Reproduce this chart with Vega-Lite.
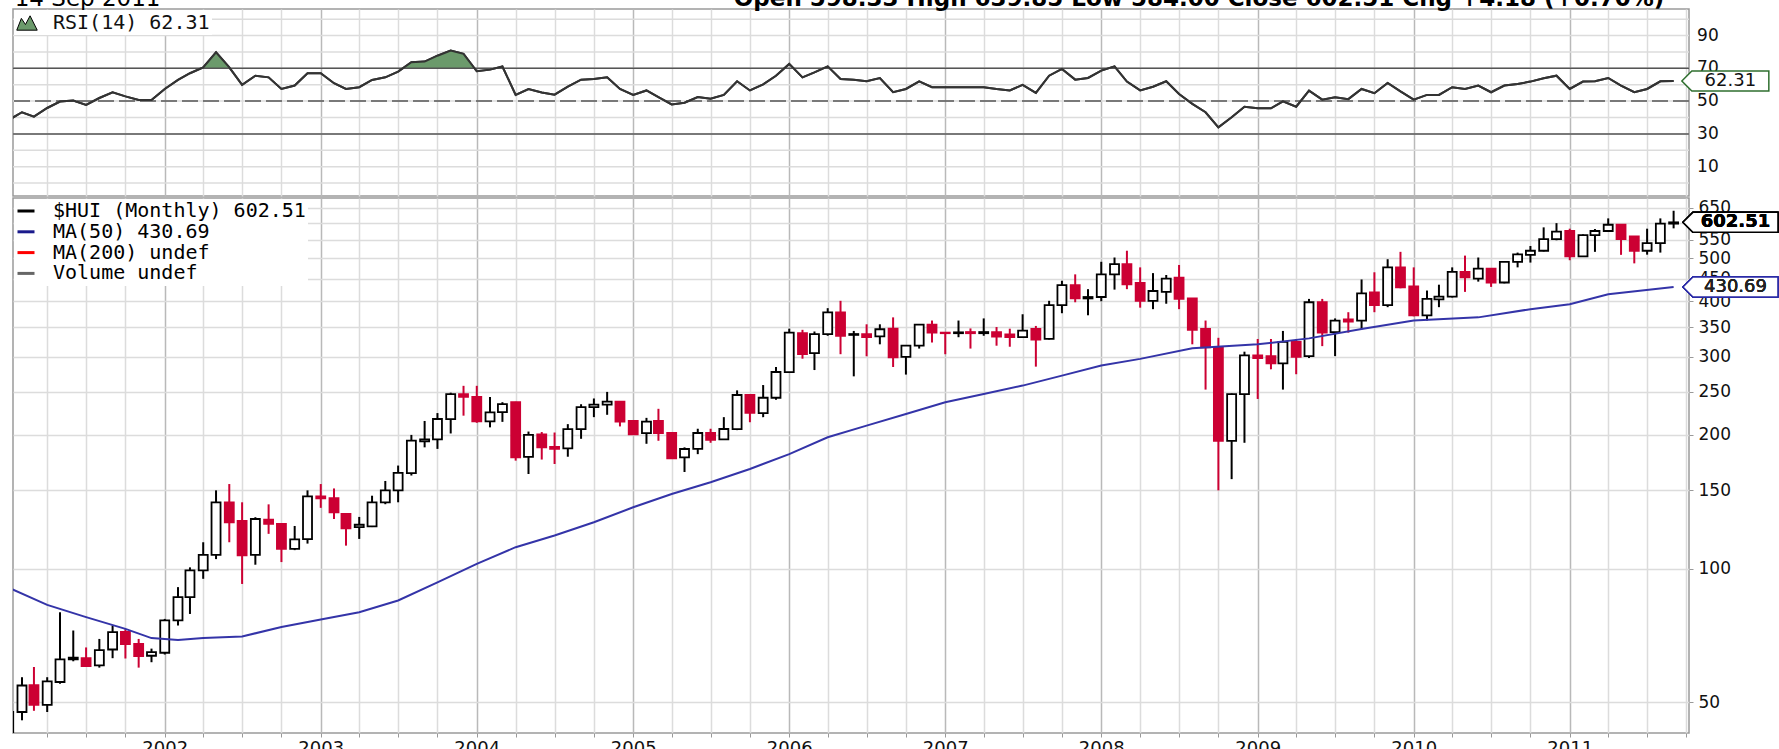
{
  "$schema": "https://vega.github.io/schema/vega-lite/v6.json",
  "padding": {"left": 11, "top": -13, "right": 0, "bottom": 0},
  "background": "white",
  "spacing": 0,
  "resolve": {"legend": {"color": "independent", "fill": "independent"}, "scale": {"x": "independent", "y": "independent"}},
  "config": {
    "view": {"stroke": "#9a9a9a", "strokeWidth": 1.5},
    "axis": {"domain": false, "gridColor": "#dcdcdc", "gridWidth": 1.5, "labelFont": "DejaVu Sans", "labelFontSize": 17, "labelColor": "#111111", "tickColor": "#999999", "title": null},
    "legend": {"title": null}
  },
  "datasets": {
    "ohlc": [
      {"d": "2001-01-01", "o": 41, "h": 48, "l": 39.5, "c": 47.5, "r": 38.5},
      {"d": "2001-02-01", "o": 47.5, "h": 56.9, "l": 45.5, "c": 54.5, "r": 43.2},
      {"d": "2001-03-01", "o": 54.6, "h": 60, "l": 47.8, "c": 49.3, "r": 40.5},
      {"d": "2001-04-01", "o": 49.3, "h": 56.9, "l": 47.5, "c": 55.7, "r": 45.8},
      {"d": "2001-05-01", "o": 55.5, "h": 79.7, "l": 55, "c": 62.4, "r": 49.7},
      {"d": "2001-06-01", "o": 62.4, "h": 72.5, "l": 61.8, "c": 63, "r": 50.3},
      {"d": "2001-07-01", "o": 62.8, "h": 66.4, "l": 60, "c": 60.3, "r": 47.7},
      {"d": "2001-08-01", "o": 60.5, "h": 69.4, "l": 59.8, "c": 65.5, "r": 51.9},
      {"d": "2001-09-01", "o": 65.7, "h": 74.4, "l": 62.8, "c": 71.9, "r": 55.4},
      {"d": "2001-10-01", "o": 72, "h": 73, "l": 62.7, "c": 67.6, "r": 52.9},
      {"d": "2001-11-01", "o": 67.6, "h": 69.4, "l": 59.8, "c": 63.5, "r": 50.7},
      {"d": "2001-12-01", "o": 63.6, "h": 66, "l": 61.5, "c": 64.8, "r": 50.7},
      {"d": "2002-01-01", "o": 64.6, "h": 77, "l": 64, "c": 76.4, "r": 57.4},
      {"d": "2002-02-01", "o": 76.4, "h": 90.8, "l": 74.4, "c": 86.2, "r": 62.9},
      {"d": "2002-03-01", "o": 86.2, "h": 100.6, "l": 79, "c": 99, "r": 67},
      {"d": "2002-04-01", "o": 99, "h": 114.6, "l": 94.8, "c": 107.3, "r": 70.6},
      {"d": "2002-05-01", "o": 107.3, "h": 150, "l": 105, "c": 141, "r": 79.8},
      {"d": "2002-06-01", "o": 141, "h": 155, "l": 114.6, "c": 127, "r": 70.6},
      {"d": "2002-07-01", "o": 128, "h": 141, "l": 92.3, "c": 107.1, "r": 59.9},
      {"d": "2002-08-01", "o": 107.3, "h": 130.5, "l": 102, "c": 129.3, "r": 65.5},
      {"d": "2002-09-01", "o": 128.8, "h": 139.5, "l": 119.7, "c": 126, "r": 64.5},
      {"d": "2002-10-01", "o": 126, "h": 126.3, "l": 103.4, "c": 110.7, "r": 57.4},
      {"d": "2002-11-01", "o": 110.7, "h": 124.7, "l": 110, "c": 116.3, "r": 59.5},
      {"d": "2002-12-01", "o": 116.5, "h": 150, "l": 113.8, "c": 145.4, "r": 67},
      {"d": "2003-01-01", "o": 145.4, "h": 155, "l": 137, "c": 144, "r": 67},
      {"d": "2003-02-01", "o": 144, "h": 151.5, "l": 129.3, "c": 133.9, "r": 60.9},
      {"d": "2003-03-01", "o": 132.7, "h": 133, "l": 112.6, "c": 123.2, "r": 57.4},
      {"d": "2003-04-01", "o": 124, "h": 130.7, "l": 116.6, "c": 125.5, "r": 58.5},
      {"d": "2003-05-01", "o": 124.5, "h": 145.9, "l": 124, "c": 141, "r": 62.9},
      {"d": "2003-06-01", "o": 141, "h": 157.5, "l": 139.6, "c": 150, "r": 64.5},
      {"d": "2003-07-01", "o": 150, "h": 170.6, "l": 141, "c": 164.2, "r": 68},
      {"d": "2003-08-01", "o": 164, "h": 200, "l": 162, "c": 194.2, "r": 73.7},
      {"d": "2003-09-01", "o": 193.5, "h": 215, "l": 187.5, "c": 195.5, "r": 74.1},
      {"d": "2003-10-01", "o": 195.5, "h": 224, "l": 186, "c": 217.2, "r": 77.7},
      {"d": "2003-11-01", "o": 217, "h": 249, "l": 201.5, "c": 247.2, "r": 80.8},
      {"d": "2003-12-01", "o": 247, "h": 258, "l": 221, "c": 243.5, "r": 78.8},
      {"d": "2004-01-01", "o": 243.5, "h": 258, "l": 213, "c": 214.5, "r": 68.2},
      {"d": "2004-02-01", "o": 214.5, "h": 243.5, "l": 208, "c": 224.8, "r": 69.2},
      {"d": "2004-03-01", "o": 225, "h": 237, "l": 214, "c": 234.7, "r": 71.1},
      {"d": "2004-04-01", "o": 237, "h": 237.5, "l": 175, "c": 178, "r": 53.8},
      {"d": "2004-05-01", "o": 178.5, "h": 203.5, "l": 163.3, "c": 200, "r": 57.4},
      {"d": "2004-06-01", "o": 200.5, "h": 203, "l": 176, "c": 187.5, "r": 55.3},
      {"d": "2004-07-01", "o": 188, "h": 202.5, "l": 172, "c": 186, "r": 53.9},
      {"d": "2004-08-01", "o": 186.5, "h": 211.5, "l": 178.6, "c": 206, "r": 58.8},
      {"d": "2004-09-01", "o": 206, "h": 234.5, "l": 196, "c": 231, "r": 63.1},
      {"d": "2004-10-01", "o": 231, "h": 241.6, "l": 219.3, "c": 234, "r": 63.5},
      {"d": "2004-11-01", "o": 234, "h": 250, "l": 222, "c": 237.6, "r": 64.5},
      {"d": "2004-12-01", "o": 237.6, "h": 238.5, "l": 209, "c": 214.3, "r": 57.4},
      {"d": "2005-01-01", "o": 215, "h": 215.5, "l": 200, "c": 200.5, "r": 53.8},
      {"d": "2005-02-01", "o": 201.8, "h": 218.5, "l": 191, "c": 214.3, "r": 56.5},
      {"d": "2005-03-01", "o": 215, "h": 229, "l": 194, "c": 202, "r": 52.5},
      {"d": "2005-04-01", "o": 202, "h": 202.5, "l": 176.5, "c": 177, "r": 48},
      {"d": "2005-05-01", "o": 178, "h": 187.5, "l": 165, "c": 185.9, "r": 49},
      {"d": "2005-06-01", "o": 186, "h": 206.5, "l": 181, "c": 202, "r": 52.5},
      {"d": "2005-07-01", "o": 202, "h": 206.5, "l": 192, "c": 195, "r": 51.4},
      {"d": "2005-08-01", "o": 195.5, "h": 219.3, "l": 195, "c": 206.2, "r": 53.8},
      {"d": "2005-09-01", "o": 206, "h": 252, "l": 205, "c": 246, "r": 62.1},
      {"d": "2005-10-01", "o": 246, "h": 246.5, "l": 213.6, "c": 224.2, "r": 56.5},
      {"d": "2005-11-01", "o": 224, "h": 259, "l": 219.3, "c": 242.5, "r": 60.2},
      {"d": "2005-12-01", "o": 242.5, "h": 284.5, "l": 240, "c": 277.2, "r": 65.5},
      {"d": "2006-01-01", "o": 277, "h": 347, "l": 276, "c": 340, "r": 72.7},
      {"d": "2006-02-01", "o": 339, "h": 345, "l": 297, "c": 304, "r": 64.5},
      {"d": "2006-03-01", "o": 305.7, "h": 342, "l": 280, "c": 337.5, "r": 67.5},
      {"d": "2006-04-01", "o": 337.5, "h": 386, "l": 334.5, "c": 377.6, "r": 71.2},
      {"d": "2006-05-01", "o": 377.6, "h": 401, "l": 304, "c": 334.5, "r": 63.5},
      {"d": "2006-06-01", "o": 336, "h": 343, "l": 271, "c": 337.5, "r": 63.1},
      {"d": "2006-07-01", "o": 337.5, "h": 355, "l": 300.7, "c": 332, "r": 62.1},
      {"d": "2006-08-01", "o": 333.6, "h": 355, "l": 320, "c": 346, "r": 64.1},
      {"d": "2006-09-01", "o": 347, "h": 368, "l": 284.5, "c": 299, "r": 55.4},
      {"d": "2006-10-01", "o": 299.7, "h": 318, "l": 273.5, "c": 317.7, "r": 57.4},
      {"d": "2006-11-01", "o": 317.7, "h": 355, "l": 313, "c": 354.5, "r": 62.1},
      {"d": "2006-12-01", "o": 354.5, "h": 362, "l": 323, "c": 340, "r": 58.5},
      {"d": "2007-01-01", "o": 340, "h": 341, "l": 304, "c": 339, "r": 58.5},
      {"d": "2007-02-01", "o": 339, "h": 362, "l": 332, "c": 340.5, "r": 58.5},
      {"d": "2007-03-01", "o": 341, "h": 347.5, "l": 313, "c": 339, "r": 58.5},
      {"d": "2007-04-01", "o": 339, "h": 366, "l": 334.5, "c": 341, "r": 58.5},
      {"d": "2007-05-01", "o": 341, "h": 350, "l": 317.7, "c": 333, "r": 57.4},
      {"d": "2007-06-01", "o": 337, "h": 347, "l": 316, "c": 332, "r": 56.5},
      {"d": "2007-07-01", "o": 332, "h": 374, "l": 332, "c": 343.4, "r": 59.9},
      {"d": "2007-08-01", "o": 346.6, "h": 352, "l": 285, "c": 328, "r": 55},
      {"d": "2007-09-01", "o": 329, "h": 401, "l": 328, "c": 392, "r": 65.5},
      {"d": "2007-10-01", "o": 392, "h": 445, "l": 376, "c": 435, "r": 69.6},
      {"d": "2007-11-01", "o": 435, "h": 460, "l": 398, "c": 406, "r": 63.1},
      {"d": "2007-12-01", "o": 406, "h": 426, "l": 372, "c": 409, "r": 64.1},
      {"d": "2008-01-01", "o": 409, "h": 491, "l": 400, "c": 460, "r": 68.6},
      {"d": "2008-02-01", "o": 460, "h": 502, "l": 425, "c": 485, "r": 71.2},
      {"d": "2008-03-01", "o": 485, "h": 520, "l": 426, "c": 437, "r": 61.9},
      {"d": "2008-04-01", "o": 440, "h": 477, "l": 387, "c": 401, "r": 56.5},
      {"d": "2008-05-01", "o": 401, "h": 463, "l": 384, "c": 422, "r": 58.8},
      {"d": "2008-06-01", "o": 420, "h": 458.5, "l": 395, "c": 450, "r": 62.1},
      {"d": "2008-07-01", "o": 452, "h": 483, "l": 384, "c": 405, "r": 54.3},
      {"d": "2008-08-01", "o": 406, "h": 406, "l": 320, "c": 345, "r": 48.3},
      {"d": "2008-09-01", "o": 346.6, "h": 362, "l": 253, "c": 315, "r": 43.2},
      {"d": "2008-10-01", "o": 315, "h": 331, "l": 150, "c": 194, "r": 34},
      {"d": "2008-11-01", "o": 194, "h": 248, "l": 159, "c": 247, "r": 40.1},
      {"d": "2008-12-01", "o": 247, "h": 308, "l": 192, "c": 302, "r": 46.6},
      {"d": "2009-01-01", "o": 302, "h": 329, "l": 241, "c": 298, "r": 45.6},
      {"d": "2009-02-01", "o": 301, "h": 329, "l": 281, "c": 290, "r": 45.6},
      {"d": "2009-03-01", "o": 290, "h": 343, "l": 253, "c": 324, "r": 49.9},
      {"d": "2009-04-01", "o": 324, "h": 329, "l": 274, "c": 300, "r": 46.6},
      {"d": "2009-05-01", "o": 301, "h": 405, "l": 298, "c": 398, "r": 56.4},
      {"d": "2009-06-01", "o": 398, "h": 405, "l": 317, "c": 340, "r": 50.9},
      {"d": "2009-07-01", "o": 341, "h": 366, "l": 301, "c": 362, "r": 52.3},
      {"d": "2009-08-01", "o": 364, "h": 378, "l": 340, "c": 360, "r": 51.2},
      {"d": "2009-09-01", "o": 362, "h": 448, "l": 346, "c": 417, "r": 57.4},
      {"d": "2009-10-01", "o": 419, "h": 465, "l": 378, "c": 392, "r": 54.8},
      {"d": "2009-11-01", "o": 392, "h": 497.6, "l": 388, "c": 477, "r": 61.1},
      {"d": "2009-12-01", "o": 477, "h": 517, "l": 428, "c": 430, "r": 55.9},
      {"d": "2010-01-01", "o": 432, "h": 477, "l": 370, "c": 372, "r": 50.9},
      {"d": "2010-02-01", "o": 372, "h": 423, "l": 362, "c": 405, "r": 53.8},
      {"d": "2010-03-01", "o": 404, "h": 436, "l": 388, "c": 410, "r": 53.8},
      {"d": "2010-04-01", "o": 410, "h": 477, "l": 408, "c": 466, "r": 58.5},
      {"d": "2010-05-01", "o": 466, "h": 507, "l": 420, "c": 453, "r": 57.4},
      {"d": "2010-06-01", "o": 450, "h": 502, "l": 443, "c": 474, "r": 59.5},
      {"d": "2010-07-01", "o": 474, "h": 474, "l": 431, "c": 441, "r": 55.4},
      {"d": "2010-08-01", "o": 441, "h": 493, "l": 439, "c": 491, "r": 59.5},
      {"d": "2010-09-01", "o": 491, "h": 515, "l": 477, "c": 510, "r": 60.5},
      {"d": "2010-10-01", "o": 509, "h": 533, "l": 489, "c": 520, "r": 61.9},
      {"d": "2010-11-01", "o": 520, "h": 587, "l": 518, "c": 552, "r": 64},
      {"d": "2010-12-01", "o": 552, "h": 600, "l": 549, "c": 574, "r": 65.5},
      {"d": "2011-01-01", "o": 576, "h": 583, "l": 495, "c": 505, "r": 57.4},
      {"d": "2011-02-01", "o": 505, "h": 566, "l": 505, "c": 564, "r": 61.9},
      {"d": "2011-03-01", "o": 564, "h": 582, "l": 517, "c": 576, "r": 62.1},
      {"d": "2011-04-01", "o": 576, "h": 615, "l": 576, "c": 595, "r": 64.1},
      {"d": "2011-05-01", "o": 595, "h": 595, "l": 509, "c": 552, "r": 59.5},
      {"d": "2011-06-01", "o": 560, "h": 560, "l": 487, "c": 520, "r": 55.4},
      {"d": "2011-07-01", "o": 520, "h": 583, "l": 509.5, "c": 541, "r": 57.4},
      {"d": "2011-08-01", "o": 541, "h": 615, "l": 515, "c": 598.33, "r": 62.1},
      {"d": "2011-09-01", "o": 598.5, "h": 639.85, "l": 584, "c": 602.51, "r": 62.31}
    ],
    "ma": [
      {"d": "2001-01-01", "v": 90.5}, {"d": "2001-04-01", "v": 82.8}, {"d": "2001-07-01", "v": 77.7},
      {"d": "2001-10-01", "v": 73.1}, {"d": "2001-12-01", "v": 69.7}, {"d": "2002-02-01", "v": 69.0},
      {"d": "2002-04-01", "v": 69.7}, {"d": "2002-07-01", "v": 70.3}, {"d": "2002-10-01", "v": 73.8},
      {"d": "2003-01-01", "v": 76.8}, {"d": "2003-04-01", "v": 79.7}, {"d": "2003-07-01", "v": 84.7},
      {"d": "2003-10-01", "v": 93.1}, {"d": "2004-01-01", "v": 102.4}, {"d": "2004-04-01", "v": 111.7},
      {"d": "2004-07-01", "v": 118.7}, {"d": "2004-10-01", "v": 127.1}, {"d": "2005-01-01", "v": 137.4},
      {"d": "2005-04-01", "v": 147.2}, {"d": "2005-07-01", "v": 156.5}, {"d": "2005-10-01", "v": 167.6},
      {"d": "2006-01-01", "v": 181}, {"d": "2006-04-01", "v": 197.6}, {"d": "2006-07-01", "v": 209.9},
      {"d": "2006-10-01", "v": 223}, {"d": "2007-01-01", "v": 236.9}, {"d": "2007-04-01", "v": 247.3},
      {"d": "2007-07-01", "v": 258.3}, {"d": "2007-10-01", "v": 272}, {"d": "2008-01-01", "v": 286.7},
      {"d": "2008-04-01", "v": 296.7}, {"d": "2008-08-01", "v": 313.5}, {"d": "2009-01-01", "v": 320},
      {"d": "2009-05-01", "v": 330}, {"d": "2009-09-01", "v": 346.6}, {"d": "2010-01-01", "v": 362},
      {"d": "2010-06-01", "v": 368}, {"d": "2010-10-01", "v": 384}, {"d": "2011-01-01", "v": 394},
      {"d": "2011-04-01", "v": 415}, {"d": "2011-09-01", "v": 430.69}
    ],
    "rsifill": [
      {"d": "2002-03-26", "hi": 70, "lo": 70, "g": 1}, {"d": "2002-04-01", "hi": 70.6, "lo": 70, "g": 1},
      {"d": "2002-05-01", "hi": 79.8, "lo": 70, "g": 1}, {"d": "2002-06-01", "hi": 70.6, "lo": 70, "g": 1},
      {"d": "2002-06-03", "hi": 70, "lo": 70, "g": 1},
      {"d": "2003-07-12", "hi": 70, "lo": 70, "g": 2}, {"d": "2003-08-01", "hi": 73.7, "lo": 70, "g": 2},
      {"d": "2003-09-01", "hi": 74.1, "lo": 70, "g": 2}, {"d": "2003-10-01", "hi": 77.7, "lo": 70, "g": 2},
      {"d": "2003-11-01", "hi": 80.8, "lo": 70, "g": 2}, {"d": "2003-12-01", "hi": 78.8, "lo": 70, "g": 2},
      {"d": "2003-12-27", "hi": 70, "lo": 70, "g": 2}
    ],
    "rsigrid": [{"v": 0}, {"v": 10}, {"v": 20}, {"v": 30}, {"v": 40}, {"v": 50}, {"v": 60}, {"v": 70}, {"v": 80}, {"v": 90}, {"v": 100}],
    "rsilab": [
      {"d": "2011-10-26", "v": 10, "t": "10"}, {"d": "2011-10-26", "v": 30, "t": "30"}, {"d": "2011-10-26", "v": 50, "t": "50"},
      {"d": "2011-10-26", "v": 70, "t": "70"}, {"d": "2011-10-26", "v": 90, "t": "90"}
    ],
    "levels": [{"v": 70}, {"v": 30}],
    "mid": [{"v": 50}],
    "rsitag": [{"d": "2011-12-31", "v": 62.31, "t": "62.31"}],
    "hdrleft": [{"d": "2001-01-15", "v": 108, "t": "14 Sep 2011"}],
    "hdrright": [{"d": "2011-08-10", "v": 108, "t": "Open 598.33  High 639.85  Low 584.00  Close 602.51  Chg +4.18 (+0.70%)"}],
    "items": [
      {"s": "$HUI (Monthly) 602.51"}, {"s": "MA(50) 430.69"}, {"s": "MA(200) undef"}, {"s": "Volume undef"}
    ],
    "rsiitem": [{"s": "RSI(14) 62.31"}]
  },
  "vconcat": [
    {
      "width": 1676,
      "height": 187,
      "layer": [
        {
          "data": {"name": "rsigrid"},
          "mark": {"type": "rule", "color": "#dcdcdc", "strokeWidth": 1.5},
          "encoding": {
            "y": {"field": "v", "type": "quantitative", "scale": {"domain": [-7.9, 106.2], "nice": false, "zero": false}, "axis": null}
          }
        },
        {
          "data": {"name": "ohlc"},
          "mark": {"type": "line", "color": "#333333", "strokeWidth": 2, "clip": true},
          "encoding": {
            "x": {"field": "d", "type": "temporal",
              "scale": {"type": "utc", "nice": false, "padding": 0, "domain": [{"year": 2001, "month": 1, "date": 11, "utc": true}, {"year": 2011, "month": 10, "date": 7, "utc": true}]},
              "axis": {"orient": "bottom", "labels": false, "ticks": false, "domain": false, "grid": true, "tickCount": {"interval": "month", "step": 3},
                "gridColor": {"condition": {"test": "utcmonth(datum.value) == 0", "value": "#b9b9b9"}, "value": "#dcdcdc"}}},
            "y": {"field": "r", "type": "quantitative", "scale": {"domain": [-7.9, 106.2], "nice": false, "zero": false}, "axis": null}
          }
        },
        {
          "data": {"name": "rsifill"},
          "mark": {"type": "area", "clip": true, "color": "#6b9a6b"},
          "encoding": {
            "x": {"field": "d", "type": "temporal", "scale": {"type": "utc", "nice": false, "padding": 0, "domain": [{"year": 2001, "month": 1, "date": 11, "utc": true}, {"year": 2011, "month": 10, "date": 7, "utc": true}]}},
            "y": {"field": "hi", "type": "quantitative", "scale": {"domain": [-7.9, 106.2], "nice": false, "zero": false}, "axis": null},
            "y2": {"field": "lo"},
            "detail": {"field": "g"}
          }
        },
        {
          "data": {"name": "levels"},
          "mark": {"type": "rule", "color": "#555555", "strokeWidth": 1.5},
          "encoding": {"y": {"field": "v", "type": "quantitative", "scale": {"domain": [-7.9, 106.2], "nice": false, "zero": false}, "axis": null}}
        },
        {
          "data": {"name": "mid"},
          "mark": {"type": "rule", "color": "#555555", "strokeWidth": 1.5, "strokeDash": [16, 5]},
          "encoding": {"y": {"field": "v", "type": "quantitative", "scale": {"domain": [-7.9, 106.2], "nice": false, "zero": false}, "axis": null}}
        },
        {
          "data": {"name": "ohlc"},
          "mark": {"type": "line", "color": "#333333", "strokeWidth": 2, "clip": true},
          "encoding": {
            "x": {"field": "d", "type": "temporal", "scale": {"type": "utc", "nice": false, "padding": 0, "domain": [{"year": 2001, "month": 1, "date": 11, "utc": true}, {"year": 2011, "month": 10, "date": 7, "utc": true}]}},
            "y": {"field": "r", "type": "quantitative", "scale": {"domain": [-7.9, 106.2], "nice": false, "zero": false}, "axis": null}
          }
        },
        {
          "data": {"name": "rsilab"},
          "mark": {"type": "text", "font": "DejaVu Sans", "fontSize": 17, "color": "#111111", "align": "left", "baseline": "middle"},
          "encoding": {
            "x": {"field": "d", "type": "temporal", "scale": {"type": "utc", "nice": false, "padding": 0, "domain": [{"year": 2001, "month": 1, "date": 11, "utc": true}, {"year": 2011, "month": 10, "date": 7, "utc": true}]}},
            "y": {"field": "v", "type": "quantitative", "scale": {"domain": [-7.9, 106.2], "nice": false, "zero": false}, "axis": null},
            "text": {"field": "t"}
          }
        },
        {
          "data": {"name": "rsiitem"},
          "mark": {"type": "point", "opacity": 0},
          "encoding": {
            "fill": {"field": "s", "type": "nominal", "scale": {"range": ["#6b9a6b"]},
              "legend": {"orient": "top-left", "offset": 1, "padding": 2, "fillColor": "white",
                "symbolType": "M-1,0.7L-0.55,-0.45L-0.15,0.15L0.3,-0.7L0.65,0L1,0.7Z", "symbolSize": 420, "symbolOpacity": 1,
                "symbolStrokeColor": "#000000", "symbolStrokeWidth": 1, "labelFont": "DejaVu Sans Mono", "labelFontSize": 20, "labelColor": "#111111", "labelOffset": 15, "labelLimit": 0}}
          }
        },
        {
          "data": {"name": "rsitag"},
          "mark": {"type": "point", "shape": "M-1,0L-0.77,-0.23L1,-0.23L1,0.23L-0.77,0.23Z", "size": 7569, "filled": true, "fill": "white", "stroke": "#2f6f2f", "strokeWidth": 1.5, "opacity": 1},
          "encoding": {
            "x": {"field": "d", "type": "temporal", "scale": {"type": "utc", "nice": false, "padding": 0, "domain": [{"year": 2001, "month": 1, "date": 11, "utc": true}, {"year": 2011, "month": 10, "date": 7, "utc": true}]}},
            "y": {"field": "v", "type": "quantitative", "scale": {"domain": [-7.9, 106.2], "nice": false, "zero": false}, "axis": null}
          }
        },
        {
          "data": {"name": "rsitag"},
          "mark": {"type": "text", "font": "DejaVu Sans", "fontSize": 18, "color": "#111111", "dx": 5, "align": "center", "baseline": "middle"},
          "encoding": {
            "x": {"field": "d", "type": "temporal", "scale": {"type": "utc", "nice": false, "padding": 0, "domain": [{"year": 2001, "month": 1, "date": 11, "utc": true}, {"year": 2011, "month": 10, "date": 7, "utc": true}]}},
            "y": {"field": "v", "type": "quantitative", "scale": {"domain": [-7.9, 106.2], "nice": false, "zero": false}, "axis": null},
            "text": {"field": "t"}
          }
        },
        {
          "data": {"name": "hdrleft"},
          "mark": {"type": "text", "font": "DejaVu Sans", "fontSize": 23, "color": "#000000", "align": "left", "baseline": "alphabetic"},
          "encoding": {
            "x": {"field": "d", "type": "temporal", "scale": {"type": "utc", "nice": false, "padding": 0, "domain": [{"year": 2001, "month": 1, "date": 11, "utc": true}, {"year": 2011, "month": 10, "date": 7, "utc": true}]}},
            "y": {"field": "v", "type": "quantitative", "scale": {"domain": [-7.9, 106.2], "nice": false, "zero": false}, "axis": null},
            "text": {"field": "t"}
          }
        },
        {
          "data": {"name": "hdrright"},
          "mark": {"type": "text", "font": "DejaVu Sans", "fontSize": 23, "fontWeight": "bold", "color": "#000000", "align": "right", "baseline": "alphabetic"},
          "encoding": {
            "x": {"field": "d", "type": "temporal", "scale": {"type": "utc", "nice": false, "padding": 0, "domain": [{"year": 2001, "month": 1, "date": 11, "utc": true}, {"year": 2011, "month": 10, "date": 7, "utc": true}]}},
            "y": {"field": "v", "type": "quantitative", "scale": {"domain": [-7.9, 106.2], "nice": false, "zero": false}, "axis": null},
            "text": {"field": "t"}
          }
        }
      ]
    },
    {
      "width": 1676,
      "height": 535,
      "layer": [
        {
          "data": {"name": "ohlc"},
          "mark": {"type": "rule", "strokeWidth": 2, "clip": true},
          "encoding": {
            "x": {"field": "d", "type": "temporal",
              "scale": {"type": "utc", "nice": false, "padding": 0, "domain": [{"year": 2001, "month": 1, "date": 11, "utc": true}, {"year": 2011, "month": 10, "date": 7, "utc": true}]},
              "axis": {"orient": "bottom", "grid": true, "tickCount": {"interval": "month", "step": 3}, "format": "%Y",
                "labelExpr": "utcmonth(datum.value) == 0 ? datum.label : ''", "labelOverlap": false, "labelFlush": false, "labelBound": false,
                "tickSize": 4, "labelPadding": 2, "labelFontSize": 18,
                "gridColor": {"condition": {"test": "utcmonth(datum.value) == 0", "value": "#b9b9b9"}, "value": "#dcdcdc"}}},
            "y": {"field": "l", "type": "quantitative",
              "scale": {"type": "log", "domain": [42.6, 683.6], "nice": false},
              "axis": {"orient": "right", "values": [50, 100, 150, 200, 250, 300, 350, 400, 450, 500, 550, 600, 650], "tickSize": 4, "labelPadding": 5}},
            "y2": {"field": "h"},
            "color": {"condition": {"test": "datum.c >= datum.o", "value": "#000000"}, "value": "#cc0033"}
          }
        },
        {
          "data": {"name": "ohlc"},
          "mark": {"type": "bar", "width": 9, "strokeWidth": 1.8, "clip": true},
          "encoding": {
            "x": {"field": "d", "type": "temporal", "scale": {"type": "utc", "nice": false, "padding": 0, "domain": [{"year": 2001, "month": 1, "date": 11, "utc": true}, {"year": 2011, "month": 10, "date": 7, "utc": true}]}},
            "y": {"field": "o", "type": "quantitative", "scale": {"type": "log", "domain": [42.6, 683.6], "nice": false}},
            "y2": {"field": "c"},
            "fill": {"condition": {"test": "datum.c >= datum.o", "value": "#ffffff"}, "value": "#cc0033"},
            "stroke": {"condition": {"test": "datum.c >= datum.o", "value": "#000000"}, "value": "#cc0033"}
          }
        },
        {
          "data": {"name": "ma"},
          "mark": {"type": "line", "color": "#3434a8", "strokeWidth": 2, "clip": true},
          "encoding": {
            "x": {"field": "d", "type": "temporal", "scale": {"type": "utc", "nice": false, "padding": 0, "domain": [{"year": 2001, "month": 1, "date": 11, "utc": true}, {"year": 2011, "month": 10, "date": 7, "utc": true}]}},
            "y": {"field": "v", "type": "quantitative", "scale": {"type": "log", "domain": [42.6, 683.6], "nice": false}}
          }
        },
        {
          "data": {"name": "items"},
          "mark": {"type": "point", "opacity": 0},
          "encoding": {
            "color": {"field": "s", "type": "nominal",
              "scale": {"domain": ["$HUI (Monthly) 602.51", "MA(50) 430.69", "MA(200) undef", "Volume undef"], "range": ["#000000", "#1a1a8c", "#ff0000", "#666666"]},
              "legend": {"orient": "top-left", "offset": 1, "padding": 2, "fillColor": "white", "symbolType": "stroke", "symbolSize": 289, "symbolStrokeWidth": 3, "symbolOpacity": 1,
                "labelFont": "DejaVu Sans Mono", "labelFontSize": 20, "labelOffset": 17, "rowPadding": 0.8, "labelLimit": 0,
                "encode": {
                  "labels": {"update": {"fill": {"scale": "color", "field": "value"}, "fontWeight": [{"test": "datum.index === 0", "value": "bold"}, {"value": "normal"}]}},
                  "symbols": {"update": {
                    "shape": [
                      {"test": "datum.index === 0", "value": "M-0.95,-0.45H-0.35V0.55H-0.95Z M-0.65,-0.95V0.95 M0.25,-0.25H0.85V0.45H0.25Z M0.55,-0.8V0.9"},
                      {"test": "datum.index === 3", "value": "M-1,1V-0.1H-0.6V1Z M-0.5,1V-0.6H-0.1V1Z M0,1V-0.9H0.4V1Z M0.5,1V-0.4H0.9V1Z"},
                      {"value": "stroke"}
                    ],
                    "fill": [
                      {"test": "datum.index === 0", "value": "#000000"},
                      {"test": "datum.index === 3", "value": "#666666"},
                      {"value": "transparent"}
                    ],
                    "strokeWidth": [
                      {"test": "datum.index === 0", "value": 1.5},
                      {"test": "datum.index === 3", "value": 0.5},
                      {"value": 3}
                    ]
                  }}
                }}}
          }
        },
        {
          "data": {"name": "items"},
          "mark": {"type": "point", "shape": "M-1,0L-0.79,-0.21L1,-0.21L1,0.21L-0.79,0.21Z", "size": 9025, "filled": true, "fill": "white", "stroke": "#000000", "strokeWidth": 1.5, "opacity": 1},
          "encoding": {
            "x": {"datum": {"year": 2012, "month": 1, "date": 12, "utc": true}, "type": "temporal", "scale": {"type": "utc", "nice": false, "padding": 0, "domain": [{"year": 2001, "month": 1, "date": 11, "utc": true}, {"year": 2011, "month": 10, "date": 7, "utc": true}]}},
            "y": {"datum": 602.51, "type": "quantitative", "scale": {"type": "log", "domain": [42.6, 683.6], "nice": false}}
          }
        },
        {
          "data": {"name": "items"},
          "mark": {"type": "text", "font": "DejaVu Sans", "fontSize": 18, "fontWeight": "bold", "color": "#000000", "dx": 5, "align": "center", "baseline": "middle"},
          "encoding": {
            "x": {"datum": {"year": 2012, "month": 1, "date": 12, "utc": true}, "type": "temporal", "scale": {"type": "utc", "nice": false, "padding": 0, "domain": [{"year": 2001, "month": 1, "date": 11, "utc": true}, {"year": 2011, "month": 10, "date": 7, "utc": true}]}},
            "y": {"datum": 602.51, "type": "quantitative", "scale": {"type": "log", "domain": [42.6, 683.6], "nice": false}},
            "text": {"value": "602.51"}
          }
        },
        {
          "data": {"name": "items"},
          "mark": {"type": "point", "shape": "M-1,0L-0.79,-0.21L1,-0.21L1,0.21L-0.79,0.21Z", "size": 9025, "filled": true, "fill": "white", "stroke": "#2a2aa6", "strokeWidth": 1.5, "opacity": 1},
          "encoding": {
            "x": {"datum": {"year": 2012, "month": 1, "date": 12, "utc": true}, "type": "temporal", "scale": {"type": "utc", "nice": false, "padding": 0, "domain": [{"year": 2001, "month": 1, "date": 11, "utc": true}, {"year": 2011, "month": 10, "date": 7, "utc": true}]}},
            "y": {"datum": 430.69, "type": "quantitative", "scale": {"type": "log", "domain": [42.6, 683.6], "nice": false}}
          }
        },
        {
          "data": {"name": "items"},
          "mark": {"type": "text", "font": "DejaVu Sans", "fontSize": 18, "color": "#222222", "dx": 5, "align": "center", "baseline": "middle"},
          "encoding": {
            "x": {"datum": {"year": 2012, "month": 1, "date": 12, "utc": true}, "type": "temporal", "scale": {"type": "utc", "nice": false, "padding": 0, "domain": [{"year": 2001, "month": 1, "date": 11, "utc": true}, {"year": 2011, "month": 10, "date": 7, "utc": true}]}},
            "y": {"datum": 430.69, "type": "quantitative", "scale": {"type": "log", "domain": [42.6, 683.6], "nice": false}},
            "text": {"value": "430.69"}
          }
        }
      ]
    }
  ]
}
